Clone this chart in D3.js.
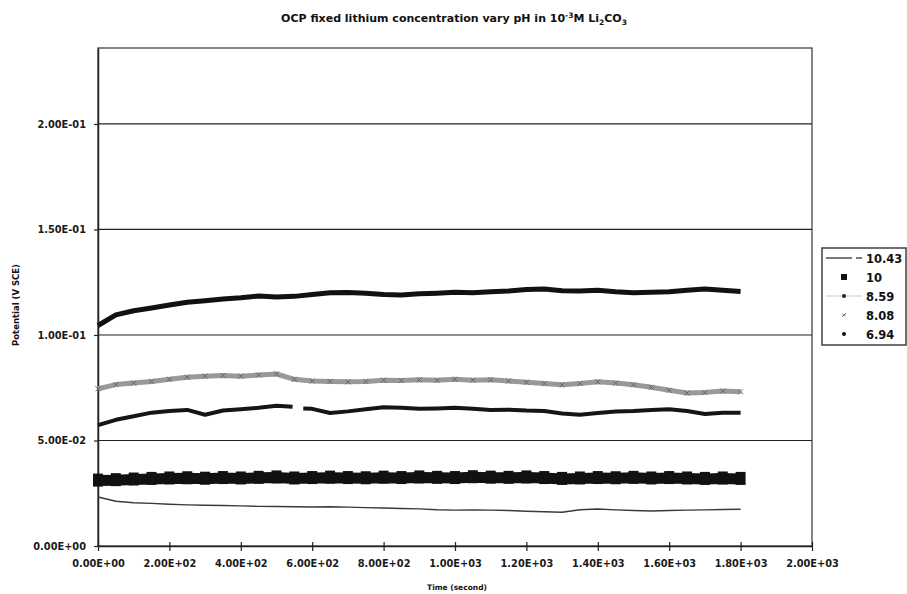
<!DOCTYPE html>
<html>
<head>
<meta charset="utf-8">
<script src="https://cdn.jsdelivr.net/npm/d3@7"></script>
<style>
  html, body { margin: 0; padding: 0; background: #fff; }
  svg { display: block; font-family: "DejaVu Sans", Arial, sans-serif; }
</style>
</head>
<body>
<svg id="chart" width="907" height="594"></svg>
<script>
// ---------- data ----------
const seriesNames = ["10.43", "10", "8.59", "8.08", "6.94"];

const times = [0,50,100,150,200,250,300,350,400,450,500,550,600,650,700,750,800,850,900,
  950,1000,1050,1100,1150,1200,1250,1300,1350,1400,1450,1500,1550,1600,1650,1700,1750,1800];

const v1043 = [0.0232,0.0212,0.0205,0.0202,0.0198,0.0195,0.0193,0.0192,0.0190,0.0188,0.0187,0.0186,
  0.0185,0.0186,0.0184,0.0182,0.0180,0.0178,0.0176,0.0172,0.0170,0.0171,0.0170,0.0168,0.0165,0.0162,
  0.0160,0.0172,0.0175,0.0171,0.0168,0.0166,0.0168,0.0170,0.0171,0.0173,0.0174];

const v10 = [0.0310,0.0312,0.0315,0.0318,0.0320,0.0321,0.0319,0.0322,0.0320,0.0323,0.0325,0.0320,
  0.0322,0.0324,0.0322,0.0321,0.0324,0.0322,0.0325,0.0323,0.0322,0.0326,0.0324,0.0323,0.0325,0.0322,
  0.0318,0.0320,0.0322,0.0321,0.0323,0.0320,0.0322,0.0320,0.0318,0.0320,0.0318];

const times859 = [0,50,100,150,200,250,300,350,400,450,500,545,560,575,600,650,700,750,800,850,900,
  950,1000,1050,1100,1150,1200,1250,1300,1350,1400,1450,1500,1550,1600,1650,1700,1750,1800];
const v859 = [0.0573,0.0598,0.0615,0.0632,0.0640,0.0645,0.0622,0.0642,0.0648,0.0655,0.0665,0.0660,
  null,0.0652,0.0650,0.0630,0.0638,0.0648,0.0657,0.0655,0.0650,0.0652,0.0655,0.0650,0.0645,0.0646,
  0.0642,0.0640,0.0628,0.0622,0.0630,0.0637,0.0640,0.0645,0.0648,0.0640,0.0626,0.0632,0.0632];

const v808 = [0.0745,0.0765,0.0772,0.0780,0.0790,0.0800,0.0805,0.0808,0.0805,0.0810,0.0815,0.0790,
  0.0782,0.0780,0.0778,0.0780,0.0786,0.0784,0.0788,0.0785,0.0790,0.0786,0.0788,0.0782,0.0776,0.0770,
  0.0764,0.0770,0.0778,0.0772,0.0764,0.0752,0.0738,0.0725,0.0728,0.0734,0.0731];

const v694 = [0.1045,0.1095,0.1115,0.1128,0.1142,0.1155,0.1162,0.1170,0.1176,0.1185,0.1180,0.1183,
  0.1192,0.1200,0.1201,0.1198,0.1192,0.1190,0.1195,0.1198,0.1202,0.1200,0.1205,0.1208,0.1215,0.1218,
  0.1210,0.1208,0.1212,0.1205,0.1200,0.1202,0.1205,0.1212,0.1218,0.1212,0.1206];

const xTicks = [0,200,400,600,800,1000,1200,1400,1600,1800,2000];
const xTickLabels = ["0.00E+00","2.00E+02","4.00E+02","6.00E+02","8.00E+02","1.00E+03",
  "1.20E+03","1.40E+03","1.60E+03","1.80E+03","2.00E+03"];
const yTicks = [0,0.05,0.1,0.15,0.2];
const yTickLabels = ["0.00E+00","5.00E-02","1.00E-01","1.50E-01","2.00E-01"];

// ---------- layout ----------
const svg = d3.select("#chart");
const FONT = "'DejaVu Sans', Arial, sans-serif";
const L = 98, R = 812, T = 48, B = 546;
const x = d3.scaleLinear().domain([0, 2000]).range([L, R]);
const y = d3.scaleLinear().domain([0, 0.236]).range([B, T]);

// plot frame + gridlines
svg.append("rect").attr("x", L).attr("y", T).attr("width", R - L).attr("height", B - T)
  .attr("fill", "#fff").attr("stroke", "#444").attr("stroke-width", 1.3);

svg.append("g").selectAll("line").data(yTicks.filter(d => d > 0)).join("line")
  .attr("x1", L).attr("x2", R).attr("y1", d => y(d)).attr("y2", d => y(d))
  .attr("stroke", "#222").attr("stroke-width", 1.2);

// axes
const yAxis = d3.axisLeft(y).tickValues(yTicks)
  .tickFormat((d, i) => yTickLabels[i]).tickSizeInner(4).tickSizeOuter(0).tickPadding(8);
const gy = svg.append("g").attr("transform", `translate(${L},0)`).call(yAxis);
const xAxis = d3.axisBottom(x).tickValues(xTicks)
  .tickFormat((d, i) => xTickLabels[i]).tickSizeInner(5).tickSizeOuter(0).tickPadding(9);
const gx = svg.append("g").attr("transform", `translate(0,${B})`).call(xAxis);
[gx, gy].forEach(g => {
  g.select(".domain").attr("stroke", "#222").attr("stroke-width", 1.5);
  g.selectAll(".tick line").attr("stroke", "#222").attr("stroke-width", 1.2);
  g.selectAll("text").attr("font-size", 9.8).attr("font-weight", "bold").attr("fill", "#1a1a1a")
    .attr("font-family", FONT);
});
gx.selectAll(".tick line").attr("y1", -4);
gy.selectAll(".tick line").attr("x2", 0).attr("x1", -4);

// ---------- series ----------
const mk = (ts, vs) => ts.map((t, i) => ({ t, v: vs[i] }));
const line = d3.line().defined(d => d.v !== null).x(d => x(d.t)).y(d => y(d.v));

const d1043 = mk(times, v1043), d10 = mk(times, v10), d859 = mk(times859, v859),
      d808 = mk(times, v808), d694 = mk(times, v694);

const plot = svg.append("g");

// 10.43 thin line
plot.append("path").datum(d1043).attr("d", line).attr("fill", "none")
  .attr("stroke", "#3a3a3a").attr("stroke-width", 1.4);

// 10 thick band with squares
plot.append("path").datum(d10).attr("d", line).attr("fill", "none")
  .attr("stroke", "#111").attr("stroke-width", 11).attr("stroke-linejoin", "round");
plot.append("g").selectAll("rect").data(d10).join("rect")
  .attr("x", d => x(d.t) - 5).attr("y", d => y(d.v) - 7).attr("width", 10).attr("height", 13)
  .attr("fill", "#111");

// 8.59
plot.append("path").datum(d859).attr("d", line).attr("fill", "none")
  .attr("stroke", "#151515").attr("stroke-width", 4).attr("stroke-linejoin", "round");

// 8.08 gray with x markers
plot.append("path").datum(d808).attr("d", line).attr("fill", "none")
  .attr("stroke", "#999").attr("stroke-width", 5).attr("stroke-linejoin", "round");
plot.append("g").selectAll("path").data(d808).join("path")
  .attr("d", d => `M${x(d.t)-2.5},${y(d.v)-2.5}L${x(d.t)+2.5},${y(d.v)+2.5}M${x(d.t)-2.5},${y(d.v)+2.5}L${x(d.t)+2.5},${y(d.v)-2.5}`)
  .attr("stroke", "#666").attr("stroke-width", 1);

// 6.94
plot.append("path").datum(d694).attr("d", line).attr("fill", "none")
  .attr("stroke", "#111").attr("stroke-width", 5).attr("stroke-linejoin", "round");

// ---------- titles ----------
const title = svg.append("text").attr("x", 454).attr("y", 22).attr("text-anchor", "middle")
  .attr("font-size", 11).attr("font-weight", "bold").attr("fill", "#111").attr("font-family", FONT);
title.append("tspan").text("OCP fixed lithium concentration vary pH in 10");
title.append("tspan").attr("dy", -4).attr("font-size", 7.5).text("-3");
title.append("tspan").attr("dy", 4).text("M Li");
title.append("tspan").attr("dy", 3).attr("font-size", 7.5).text("2");
title.append("tspan").attr("dy", -3).text("CO");
title.append("tspan").attr("dy", 3).attr("font-size", 7.5).text("3");

svg.append("text").attr("x", 457).attr("y", 590).attr("text-anchor", "middle").attr("font-family", FONT)
  .attr("font-size", 7.5).attr("font-weight", "bold").attr("fill", "#111").text("Time (second)");
svg.append("text").attr("transform", "translate(19,305) rotate(-90)").attr("text-anchor", "middle")
  .attr("font-family", FONT)
  .attr("font-size", 8.5).attr("font-weight", "bold").attr("fill", "#111").text("Potential (V SCE)");

// ---------- legend ----------
const lg = svg.append("g");
lg.append("rect").attr("x", 822).attr("y", 248).attr("width", 84).attr("height", 97)
  .attr("fill", "#fff").attr("stroke", "#333").attr("stroke-width", 1.4);
const ly = [258, 277, 296, 315, 334];
const items = lg.selectAll("g").data(seriesNames).join("g")
  .attr("transform", (d, i) => `translate(0,${ly[i]})`);
items.append("text").attr("x", 866).attr("y", 4.5).attr("font-size", 11.5).attr("font-weight", "bold")
  .attr("font-family", FONT).attr("fill", "#111").text(d => d);
// symbols
lg.append("line").attr("x1", 826).attr("x2", 852).attr("y1", ly[0]).attr("y2", ly[0])
  .attr("stroke", "#333").attr("stroke-width", 1.3);
lg.append("line").attr("x1", 856).attr("x2", 862).attr("y1", ly[0]).attr("y2", ly[0])
  .attr("stroke", "#333").attr("stroke-width", 1.3);
lg.append("rect").attr("x", 841).attr("y", ly[1] - 3).attr("width", 6).attr("height", 6).attr("fill", "#111");
lg.append("line").attr("x1", 826).attr("x2", 862).attr("y1", ly[2]).attr("y2", ly[2])
  .attr("stroke", "#ccc").attr("stroke-width", 1);
lg.append("circle").attr("cx", 844).attr("cy", ly[2]).attr("r", 2).attr("fill", "#222");
lg.append("path").attr("d", `M842,${ly[3]+2}L846,${ly[3]-2}M842.5,${ly[3]-1}L845.5,${ly[3]+1}`)
  .attr("stroke", "#777").attr("stroke-width", 1);
lg.append("circle").attr("cx", 844).attr("cy", ly[4]).attr("r", 2).attr("fill", "#111");
</script>
</body>
</html>
